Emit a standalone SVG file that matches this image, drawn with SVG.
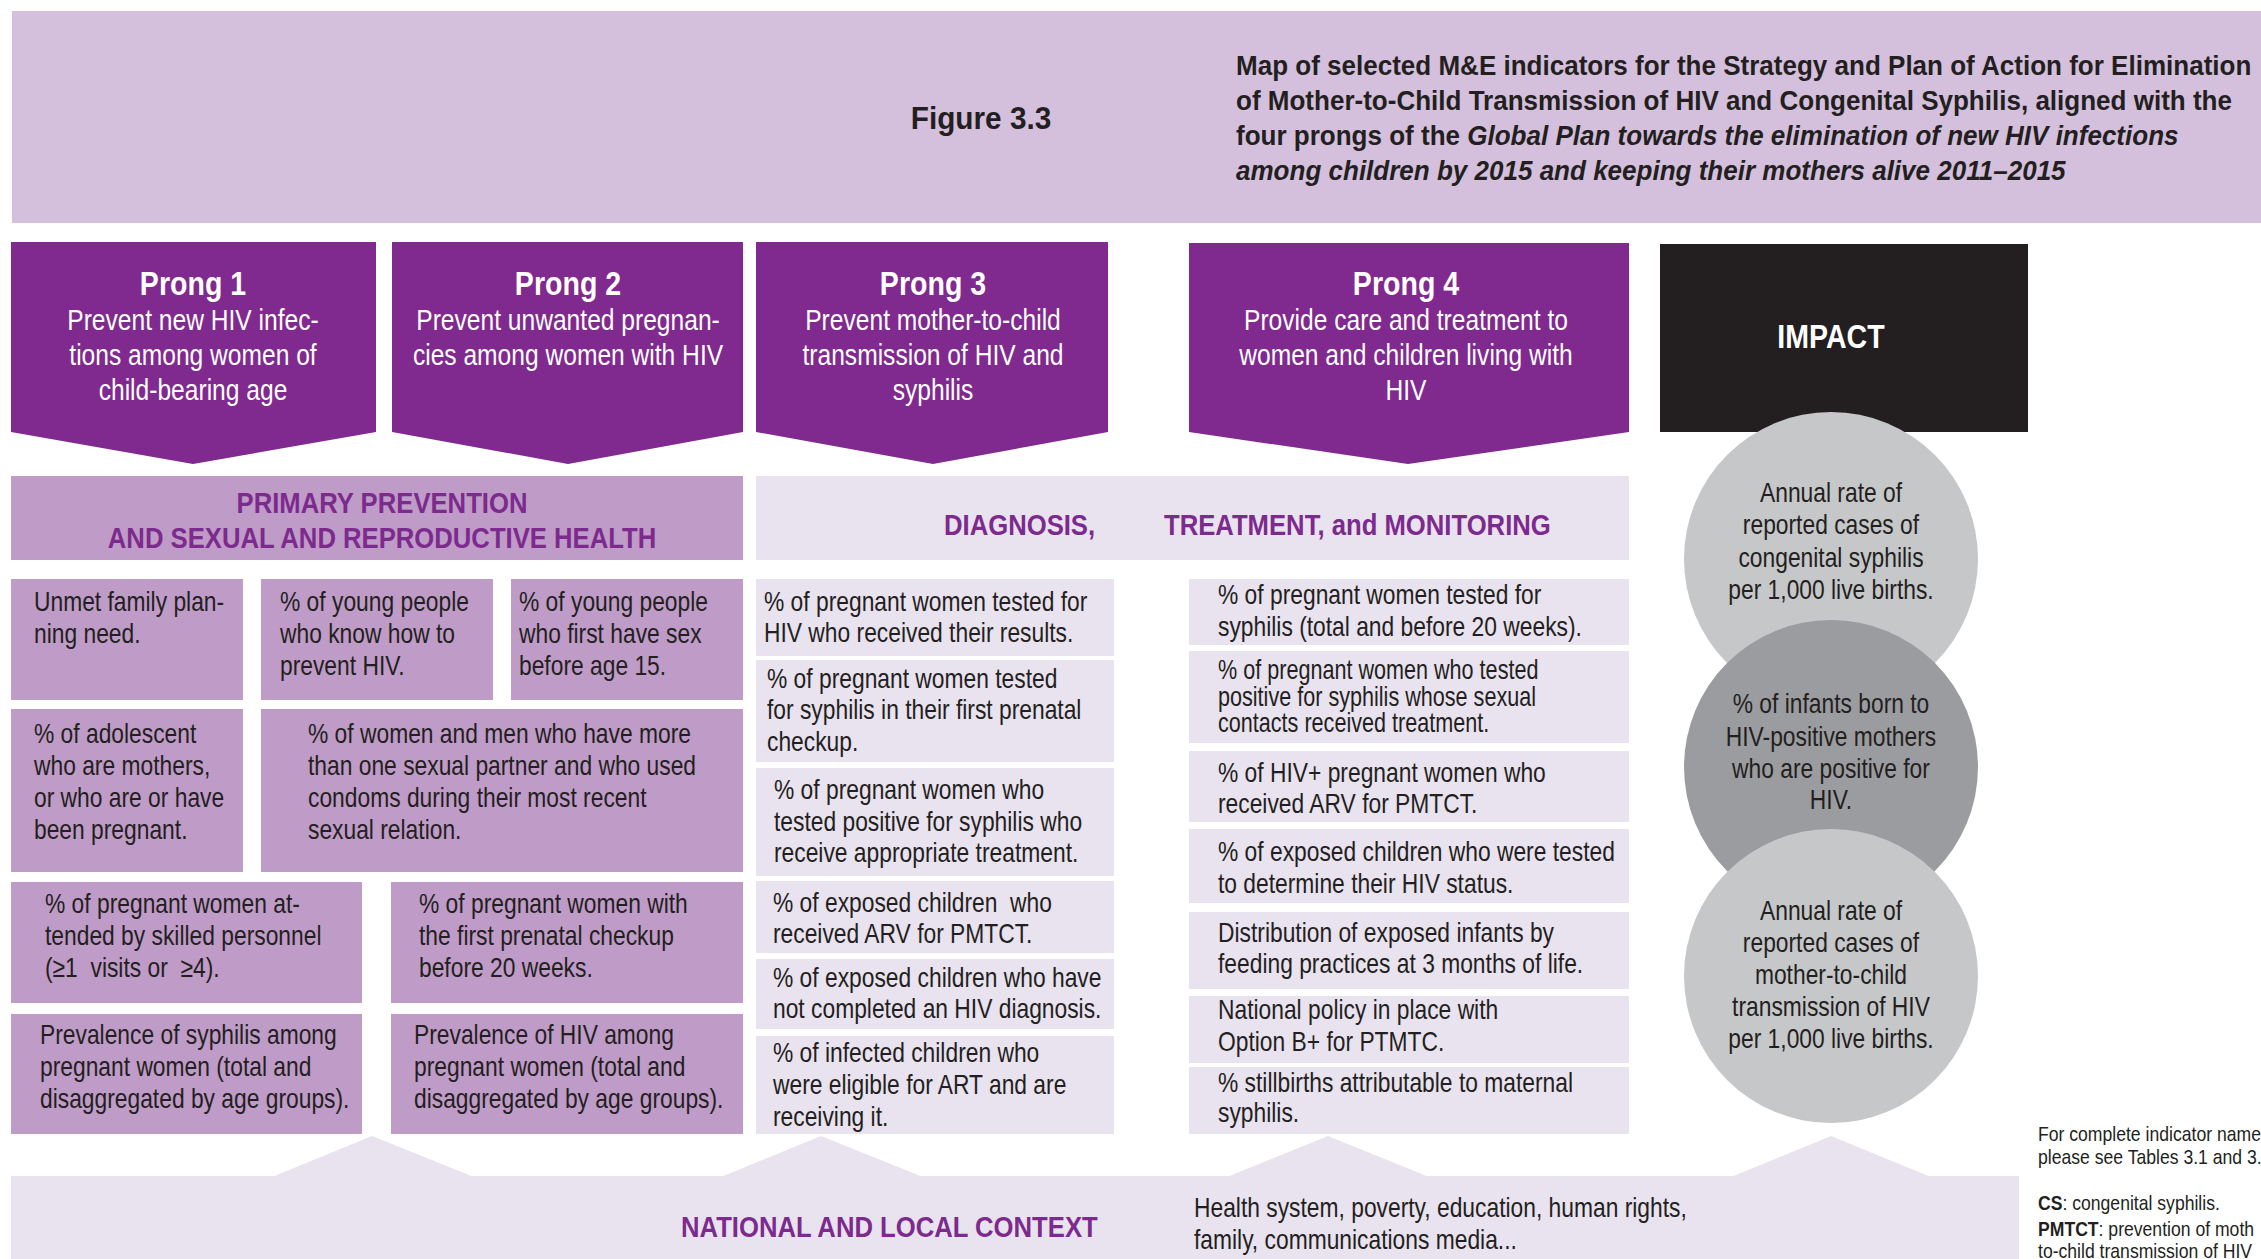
<svg xmlns="http://www.w3.org/2000/svg" width="2261" height="1259" viewBox="0 0 2261 1259">
<defs>
<style>
.t{font-family:'Liberation Sans',Arial,sans-serif;font-size:28px;fill:#231f20}
.c{text-anchor:middle}
.ph{font-family:'Liberation Sans',Arial,sans-serif;font-size:34px;font-weight:bold;fill:#fff;text-anchor:middle}
.pd{font-family:'Liberation Sans',Arial,sans-serif;font-size:30px;fill:#fff;text-anchor:middle}
.hd{font-family:'Liberation Sans',Arial,sans-serif;font-size:29px;font-weight:bold;fill:#7d2a8e}
.ttl{font-family:'Liberation Sans',Arial,sans-serif;font-size:28px;font-weight:bold;fill:#231f20}
.ft{font-family:'Liberation Sans',Arial,sans-serif;font-size:20px;fill:#231f20}
.prong{fill:#80298f}
.lp{fill:#bf9bc7}
.vl{fill:#e9e2ef}
.cl{fill:#c6c7c9}
.cd{fill:#9b9c9f}
</style>
</defs>
<rect width="2261" height="1259" fill="#fff"/>

<g id="header">
<rect x="12" y="11" width="2249" height="212" fill="#d4bfdd"/>
<text class="ttl c" transform="matrix(0.96 0 0 1 981 0)" x="0" y="129" style="font-size:31px">Figure 3.3</text>
<text class="ttl" transform="matrix(0.93 0 0 1 1236 0)">
<tspan x="0" y="75">Map of selected M&amp;E indicators for the Strategy and Plan of Action for Elimination</tspan>
<tspan x="0" y="110">of Mother-to-Child Transmission of HIV and Congenital Syphilis, aligned with the</tspan>
<tspan x="0" y="145">four prongs of the <tspan font-style="italic">Global Plan towards the elimination of new HIV infections</tspan></tspan>
<tspan x="0" y="180" font-style="italic">among children by 2015 and keeping their mothers alive 2011–2015</tspan>
</text>
</g>

<g id="prong1">
<polygon class="prong" points="11,242 376,242 376,432 193,464 11,432"/>
<text class="ph" transform="matrix(0.84 0 0 1 193 0)" x="0" y="295">Prong 1</text>
<text class="pd" transform="matrix(0.82 0 0 1 193 0)"><tspan x="0" y="330">Prevent new HIV infec-</tspan><tspan x="0" y="365">tions among women of</tspan><tspan x="0" y="400">child-bearing age</tspan></text>
</g>
<g id="prong2">
<polygon class="prong" points="392,242 743,242 743,432 568,464 392,432"/>
<text class="ph" transform="matrix(0.84 0 0 1 568 0)" x="0" y="295">Prong 2</text>
<text class="pd" transform="matrix(0.82 0 0 1 568 0)"><tspan x="0" y="330">Prevent unwanted pregnan-</tspan><tspan x="0" y="365">cies among women with HIV</tspan></text>
</g>
<g id="prong3">
<polygon class="prong" points="756,242 1108,242 1108,432 933,464 756,432"/>
<text class="ph" transform="matrix(0.84 0 0 1 933 0)" x="0" y="295">Prong 3</text>
<text class="pd" transform="matrix(0.82 0 0 1 933 0)"><tspan x="0" y="330">Prevent mother-to-child</tspan><tspan x="0" y="365">transmission of HIV and</tspan><tspan x="0" y="400">syphilis</tspan></text>
</g>
<g id="prong4">
<polygon class="prong" points="1189,243 1629,243 1629,432 1408,464 1189,432"/>
<text class="ph" transform="matrix(0.84 0 0 1 1406 0)" x="0" y="295">Prong 4</text>
<text class="pd" transform="matrix(0.82 0 0 1 1406 0)"><tspan x="0" y="330">Provide care and treatment to</tspan><tspan x="0" y="365">women and children living with</tspan><tspan x="0" y="400">HIV</tspan></text>
</g>
<g id="impact">
<rect x="1660" y="244" width="368" height="188" fill="#231f20"/>
<text class="ph" transform="matrix(0.84 0 0 1 1831 0)" x="0" y="348">IMPACT</text>
</g>

<g id="band-primary">
<rect class="lp" x="11" y="476" width="732" height="84"/>
<text class="hd c" transform="matrix(0.885 0 0 1 382 0)"><tspan x="0" y="513">PRIMARY PREVENTION</tspan><tspan x="0" y="548">AND SEXUAL AND REPRODUCTIVE HEALTH</tspan></text>
</g>
<g id="band-diagnosis">
<rect class="vl" x="756" y="476" width="873" height="84"/>
<text class="hd" transform="matrix(0.885 0 0 1 944 0)" x="0" y="535">DIAGNOSIS,</text>
<text class="hd" transform="matrix(0.885 0 0 1 1164 0)" x="0" y="535">TREATMENT, and MONITORING</text>
</g>

<g id="ind-unmet"><rect class="lp" x="11" y="579" width="232" height="121"/>
<text class="t" transform="matrix(0.815 0 0 1 34 0)"><tspan x="0" y="611">Unmet family plan-</tspan><tspan x="0" y="643">ning need.</tspan></text></g>
<g id="ind-young-know"><rect class="lp" x="261" y="579" width="232" height="121"/>
<text class="t" transform="matrix(0.815 0 0 1 280 0)"><tspan x="0" y="611">% of young people</tspan><tspan x="0" y="643">who know how to</tspan><tspan x="0" y="675">prevent HIV.</tspan></text></g>
<g id="ind-young-sex"><rect class="lp" x="511" y="579" width="232" height="121"/>
<text class="t" transform="matrix(0.815 0 0 1 519 0)"><tspan x="0" y="611">% of young people</tspan><tspan x="0" y="643">who first have sex</tspan><tspan x="0" y="675">before age 15.</tspan></text></g>
<g id="ind-adolescent"><rect class="lp" x="11" y="709" width="232" height="163"/>
<text class="t" transform="matrix(0.815 0 0 1 34 0)"><tspan x="0" y="743">% of adolescent</tspan><tspan x="0" y="775">who are mothers,</tspan><tspan x="0" y="807">or who are or have</tspan><tspan x="0" y="839">been pregnant.</tspan></text></g>
<g id="ind-condoms"><rect class="lp" x="261" y="709" width="482" height="163"/>
<text class="t" transform="matrix(0.815 0 0 1 308 0)"><tspan x="0" y="743">% of women and men who have more</tspan><tspan x="0" y="775">than one sexual partner and who used</tspan><tspan x="0" y="807">condoms during their most recent</tspan><tspan x="0" y="839">sexual relation.</tspan></text></g>
<g id="ind-skilled"><rect class="lp" x="11" y="882" width="351" height="121"/>
<text class="t" transform="matrix(0.815 0 0 1 45 0)" style="white-space:pre"><tspan x="0" y="913">% of pregnant women at-</tspan><tspan x="0" y="945">tended by skilled personnel</tspan><tspan x="0" y="977">(≥1  visits or  ≥4).</tspan></text></g>
<g id="ind-first-checkup"><rect class="lp" x="391" y="882" width="352" height="121"/>
<text class="t" transform="matrix(0.815 0 0 1 419 0)"><tspan x="0" y="913">% of pregnant women with</tspan><tspan x="0" y="945">the first prenatal checkup</tspan><tspan x="0" y="977">before 20 weeks.</tspan></text></g>
<g id="ind-prev-syphilis"><rect class="lp" x="11" y="1014" width="351" height="120"/>
<text class="t" transform="matrix(0.815 0 0 1 40 0)"><tspan x="0" y="1044">Prevalence of syphilis among</tspan><tspan x="0" y="1076">pregnant women (total and</tspan><tspan x="0" y="1108">disaggregated by age groups).</tspan></text></g>
<g id="ind-prev-hiv"><rect class="lp" x="391" y="1014" width="352" height="120"/>
<text class="t" transform="matrix(0.815 0 0 1 414 0)"><tspan x="0" y="1044">Prevalence of HIV among</tspan><tspan x="0" y="1076">pregnant women (total and</tspan><tspan x="0" y="1108">disaggregated by age groups).</tspan></text></g>

<g id="ind-hiv-results"><rect class="vl" x="756" y="579" width="358" height="77"/>
<text class="t" transform="matrix(0.815 0 0 1 764 0)"><tspan x="0" y="611">% of pregnant women tested for</tspan><tspan x="0" y="642">HIV who received their results.</tspan></text></g>
<g id="ind-syph-first"><rect class="vl" x="756" y="660" width="358" height="102"/>
<text class="t" transform="matrix(0.815 0 0 1 767 0)"><tspan x="0" y="688">% of pregnant women tested</tspan><tspan x="0" y="719">for syphilis in their first prenatal</tspan><tspan x="0" y="751">checkup.</tspan></text></g>
<g id="ind-syph-treat"><rect class="vl" x="756" y="768" width="358" height="108"/>
<text class="t" transform="matrix(0.815 0 0 1 774 0)"><tspan x="0" y="799">% of pregnant women who</tspan><tspan x="0" y="831">tested positive for syphilis who</tspan><tspan x="0" y="862">receive appropriate treatment.</tspan></text></g>
<g id="ind-exposed-arv"><rect class="vl" x="756" y="881" width="358" height="72"/>
<text class="t" transform="matrix(0.815 0 0 1 773 0)" style="white-space:pre"><tspan x="0" y="912">% of exposed children  who</tspan><tspan x="0" y="943">received ARV for PMTCT.</tspan></text></g>
<g id="ind-exposed-diag"><rect class="vl" x="756" y="959" width="358" height="70"/>
<text class="t" transform="matrix(0.815 0 0 1 773 0)"><tspan x="0" y="987">% of exposed children who have</tspan><tspan x="0" y="1018">not completed an HIV diagnosis.</tspan></text></g>
<g id="ind-infected-art"><rect class="vl" x="756" y="1036" width="358" height="98"/>
<text class="t" transform="matrix(0.815 0 0 1 773 0)"><tspan x="0" y="1062">% of infected children who</tspan><tspan x="0" y="1094">were eligible for ART and are</tspan><tspan x="0" y="1126">receiving it.</tspan></text></g>

<g id="ind-syph-tested"><rect class="vl" x="1189" y="579" width="440" height="66"/>
<text class="t" transform="matrix(0.815 0 0 1 1218 0)"><tspan x="0" y="604">% of pregnant women tested for</tspan><tspan x="0" y="636">syphilis (total and before 20 weeks).</tspan></text></g>
<g id="ind-contacts"><rect class="vl" x="1189" y="651" width="440" height="92"/>
<text class="t" transform="matrix(0.8 0 0 1 1218 0)" style="font-size:27px"><tspan x="0" y="679">% of pregnant women who tested</tspan><tspan x="0" y="706">positive for syphilis whose sexual</tspan><tspan x="0" y="732">contacts received treatment.</tspan></text></g>
<g id="ind-hivpos-arv"><rect class="vl" x="1189" y="751" width="440" height="71"/>
<text class="t" transform="matrix(0.815 0 0 1 1218 0)"><tspan x="0" y="782">% of HIV+ pregnant women who</tspan><tspan x="0" y="813">received ARV for PMTCT.</tspan></text></g>
<g id="ind-exposed-tested"><rect class="vl" x="1189" y="829" width="440" height="74"/>
<text class="t" transform="matrix(0.815 0 0 1 1218 0)"><tspan x="0" y="861">% of exposed children who were tested</tspan><tspan x="0" y="893">to determine their HIV status.</tspan></text></g>
<g id="ind-feeding"><rect class="vl" x="1189" y="912" width="440" height="77"/>
<text class="t" transform="matrix(0.815 0 0 1 1218 0)"><tspan x="0" y="942">Distribution of exposed infants by</tspan><tspan x="0" y="973">feeding practices at 3 months of life.</tspan></text></g>
<g id="ind-policy"><rect class="vl" x="1189" y="996" width="440" height="67"/>
<text class="t" transform="matrix(0.815 0 0 1 1218 0)"><tspan x="0" y="1019">National policy in place with</tspan><tspan x="0" y="1051">Option B+ for PTMTC.</tspan></text></g>
<g id="ind-stillbirths"><rect class="vl" x="1189" y="1067" width="440" height="67"/>
<text class="t" transform="matrix(0.815 0 0 1 1218 0)"><tspan x="0" y="1092">% stillbirths attributable to maternal</tspan><tspan x="0" y="1122">syphilis.</tspan></text></g>

<g id="impact-cs">
<circle class="cl" cx="1831" cy="559" r="147"/>
<text class="t c" transform="matrix(0.815 0 0 1 1831 0)"><tspan x="0" y="502">Annual rate of</tspan><tspan x="0" y="534">reported cases of</tspan><tspan x="0" y="567">congenital syphilis</tspan><tspan x="0" y="599">per 1,000 live births.</tspan></text>
</g>
<g id="impact-infants">
<circle class="cd" cx="1831" cy="767" r="147"/>
<text class="t c" transform="matrix(0.815 0 0 1 1831 0)"><tspan x="0" y="713">% of infants born to</tspan><tspan x="0" y="746">HIV-positive mothers</tspan><tspan x="0" y="778">who are positive for</tspan><tspan x="0" y="809">HIV.</tspan></text>
</g>
<g id="impact-mtct">
<circle class="cl" cx="1831" cy="976" r="147"/>
<text class="t c" transform="matrix(0.815 0 0 1 1831 0)"><tspan x="0" y="920">Annual rate of</tspan><tspan x="0" y="952">reported cases of</tspan><tspan x="0" y="984">mother-to-child</tspan><tspan x="0" y="1016">transmission of HIV</tspan><tspan x="0" y="1048">per 1,000 live births.</tspan></text>
</g>

<g id="connectors">
<polygon class="vl" points="272,1177 372,1136 474,1177"/>
<polygon class="vl" points="721,1177 821,1136 923,1177"/>
<polygon class="vl" points="1227,1177 1328,1136 1429,1177"/>
<polygon class="vl" points="1731,1177 1831,1136 1931,1177"/>
</g>

<g id="context">
<rect class="vl" x="11" y="1176" width="2008" height="83"/>
<text class="hd" transform="matrix(0.885 0 0 1 681 0)" x="0" y="1237">NATIONAL AND LOCAL CONTEXT</text>
<text class="t" transform="matrix(0.815 0 0 1 1194 0)"><tspan x="0" y="1217">Health system, poverty, education, human rights,</tspan><tspan x="0" y="1249">family, communications media...</tspan></text>
</g>

<g id="footnotes">
<text class="ft" transform="matrix(0.88 0 0 1 2038 0)"><tspan x="0" y="1141">For complete indicator name</tspan><tspan x="0" y="1164">please see Tables 3.1 and 3.</tspan></text>
<text class="ft" transform="matrix(0.88 0 0 1 2038 0)"><tspan x="0" y="1210"><tspan font-weight="bold">CS</tspan>: congenital syphilis.</tspan><tspan x="0" y="1236"><tspan font-weight="bold">PMTCT</tspan>: prevention of moth</tspan><tspan x="0" y="1258">to-child transmission of HIV</tspan></text>
</g>
</svg>
